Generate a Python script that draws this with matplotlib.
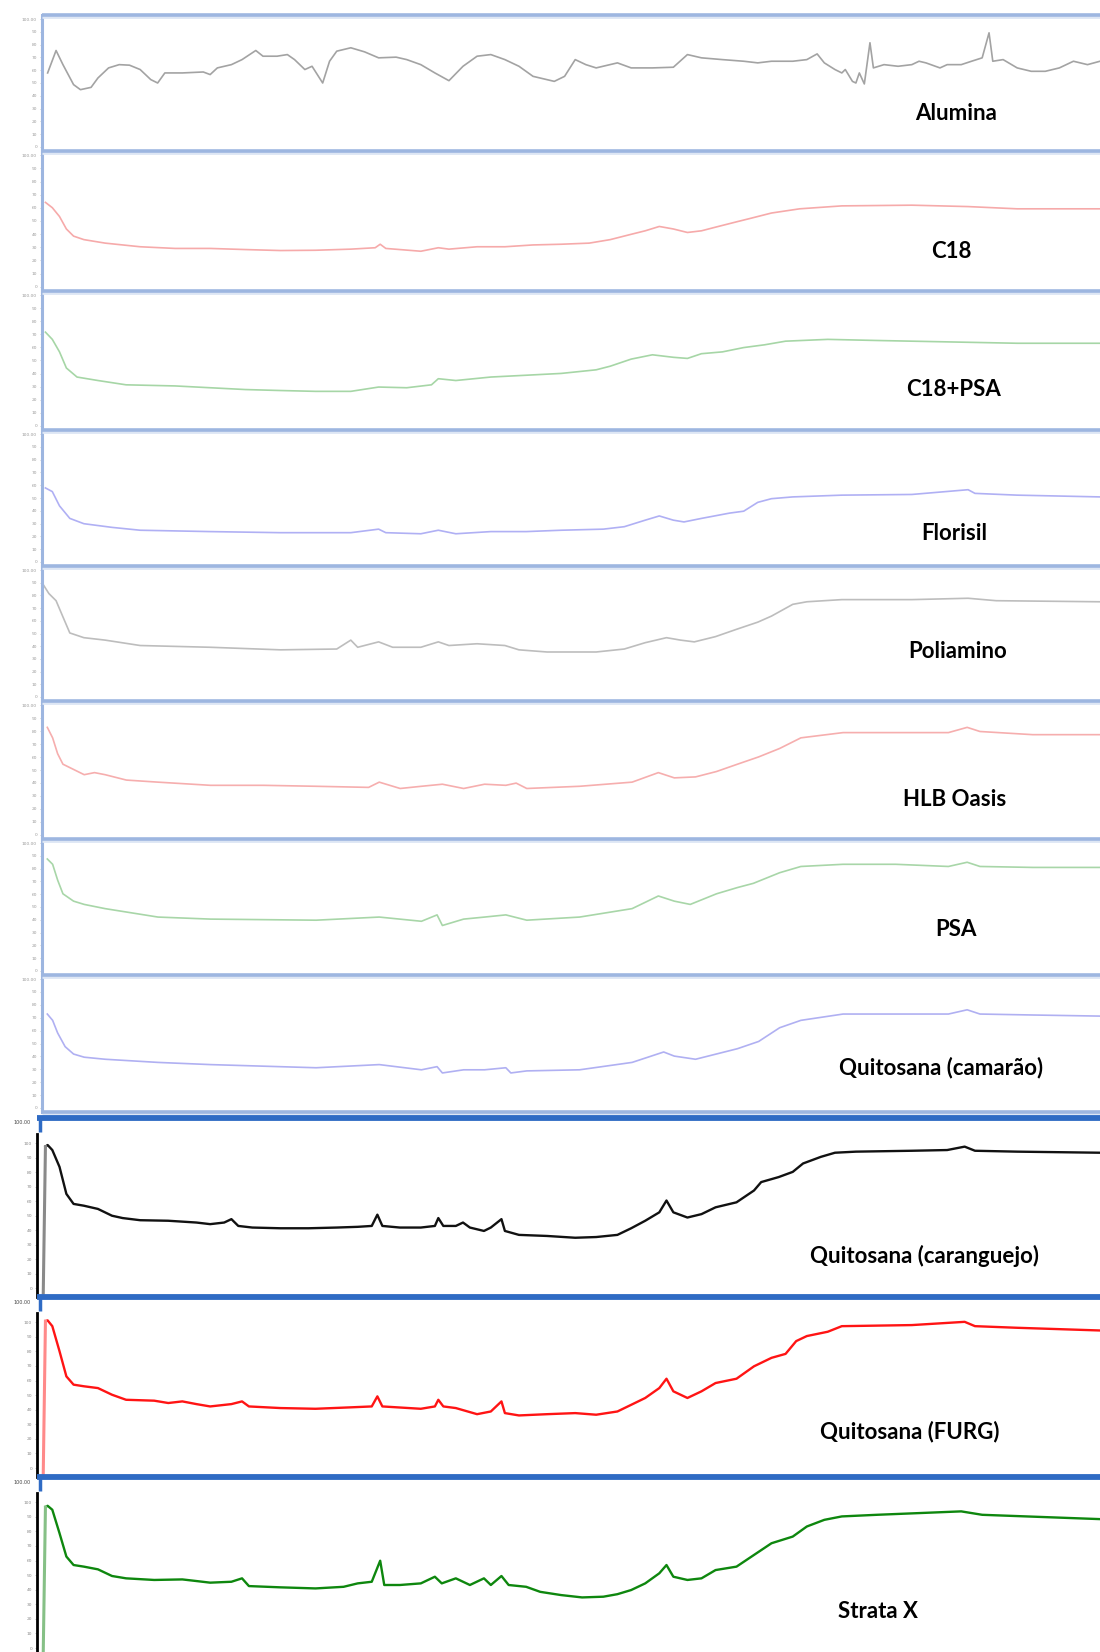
import numpy as np
import matplotlib
matplotlib.use("Agg")
import matplotlib.pyplot as plt
from matplotlib.lines import Line2D

W, H = 1100, 1652

# ---- spectra (wavenumber cm-1, transmittance %) ----
alumina_wn = [3969, 3942, 3920, 3886, 3864, 3830, 3808, 3774, 3740, 3707,
              3673, 3639, 3617, 3594, 3538, 3471, 3449, 3426, 3381, 3347,
              3303, 3280, 3235, 3202, 3179, 3146, 3123, 3089, 3067, 3044,
              2999, 2955, 2910, 2854, 2820, 2775, 2730, 2685, 2640, 2595,
              2551, 2506, 2461, 2416, 2348, 2315, 2281, 2247, 2214, 2146,
              2102, 2034, 1967, 1922, 1877, 1810, 1742, 1697, 1653, 1585,
              1540, 1507, 1484, 1450, 1428, 1417, 1394, 1383, 1372, 1356,
              1338, 1327, 1293, 1248, 1204, 1181, 1159, 1114, 1091, 1046,
              1013, 979, 957, 945, 912, 867, 822, 777, 732, 687, 642, 602]
alumina_t = [57.4, 73.9, 63.5, 48.8, 45.1, 46.8, 53.7, 61.1, 63.5, 63.1,
             59.9, 52.5, 50.0, 57.4, 57.4, 58.1, 56.2, 61.1, 63.5, 67.2,
             73.9, 69.7, 69.7, 70.9, 67.2, 59.9, 62.3, 50.0, 66.0, 73.4,
             75.9, 72.9, 68.5, 69.0, 67.2, 63.5, 57.4, 51.7, 62.3, 69.7,
             70.9, 67.2, 62.3, 54.9, 51.2, 54.9, 67.2, 63.5, 61.1, 64.8,
             61.1, 61.1, 61.6, 70.9, 68.5, 67.2, 66.0, 64.8, 66.0, 66.0,
             67.2, 71.4, 64.8, 59.9, 57.4, 59.9, 51.2, 50.0, 57.4, 49.3,
             79.6, 61.1, 63.5, 62.3, 63.5, 66.0, 64.8, 61.1, 63.5, 63.5,
             66.0, 68.5, 86.9, 66.0, 67.2, 61.1, 58.6, 58.6, 61.1, 66.0, 63.5, 66.0]

c18_wn = [3976, 3954, 3931, 3909, 3886, 3853, 3785, 3673, 3561, 3449, 3336,
          3224, 3112, 2999, 2921, 2905, 2887, 2775, 2719, 2685, 2595, 2506,
          2416, 2326, 2236, 2169, 2102, 2057, 2012, 1967, 1922, 1877, 1832,
          1765, 1720, 1653, 1563, 1428, 1204, 1024, 867, 602]
c18_t = [63.3, 59.5, 53.2, 44.3, 39.2, 36.7, 34.2, 31.6, 30.4, 30.4, 29.6,
         28.9, 29.1, 29.9, 30.9, 33.4, 30.4, 28.4, 30.9, 29.9, 31.6, 31.6,
         32.9, 33.4, 34.2, 36.7, 40.5, 43.0, 46.1, 44.3, 41.8, 43.0, 45.6,
         49.4, 51.9, 55.7, 58.7, 60.8, 61.3, 60.3, 58.7, 58.7]

c18psa_wn = [3976, 3954, 3931, 3909, 3875, 3808, 3718, 3561, 3449, 3336, 3224,
             3112, 2999, 2910, 2820, 2741, 2719, 2663, 2551, 2438, 2326, 2214,
             2169, 2102, 2034, 1967, 1922, 1877, 1810, 1742, 1675, 1608, 1473,
             1316, 1091, 867, 602]
c18psa_t = [70.4, 65.2, 56.2, 44.6, 38.1, 35.6, 32.5, 31.7, 30.4, 29.1, 28.4,
            27.8, 27.8, 30.9, 30.4, 32.5, 36.9, 35.6, 38.1, 39.4, 40.7, 43.3,
            45.9, 51.0, 54.1, 52.3, 51.5, 54.9, 56.2, 59.3, 61.3, 63.9, 65.2,
            64.4, 63.4, 62.4, 62.4]

florisil_wn = [3976, 3954, 3931, 3898, 3853, 3763, 3673, 3449, 3224, 2999, 2910,
               2887, 2775, 2719, 2663, 2551, 2438, 2326, 2191, 2124, 2057, 2012,
               1967, 1933, 1877, 1787, 1742, 1697, 1653, 1585, 1428, 1204, 1024,
               1002, 867, 602]
florisil_t = [57.4, 54.7, 44.2, 35.0, 31.1, 28.4, 26.3, 25.3, 24.5, 24.5, 27.1,
              24.5, 23.7, 26.3, 23.7, 25.3, 25.3, 26.3, 27.1, 28.9, 33.7, 36.8,
              33.7, 32.4, 35.0, 38.9, 40.3, 46.8, 49.5, 50.8, 52.1, 52.6, 56.1,
              53.4, 52.1, 50.8]

poliamino_wn = [3983, 3965, 3942, 3920, 3898, 3853, 3785, 3673, 3449, 3224, 3044,
                2999, 2977, 2910, 2865, 2775, 2719, 2685, 2595, 2506, 2461, 2371,
                2214, 2124, 2057, 1989, 1944, 1900, 1832, 1765, 1697, 1653, 1585,
                1540, 1428, 1204, 1024, 934, 602]
poliamino_t = [86.2, 79.6, 74.3, 62.3, 50.4, 46.9, 45.1, 41.1, 39.8, 37.9, 38.5,
               45.1, 39.8, 43.8, 39.8, 39.8, 43.8, 41.1, 42.4, 41.1, 37.9, 36.3,
               36.3, 38.5, 43.2, 46.9, 45.1, 43.8, 47.7, 53.1, 58.4, 62.9, 71.6,
               73.5, 75.1, 75.1, 76.1, 74.3, 73.5]

hlb_wn = [3970, 3953, 3937, 3920, 3886, 3852, 3819, 3785, 3717, 3616, 3448,
          3279, 3110, 2942, 2908, 2841, 2773, 2706, 2638, 2571, 2503, 2470,
          2436, 2267, 2099, 2015, 1964, 1896, 1829, 1762, 1694, 1627, 1559,
          1424, 1256, 1087, 1027, 986, 817, 602]
hlb_t = [80.9, 73.3, 61.8, 54.2, 50.4, 46.6, 48.1, 46.6, 42.7, 41.2, 38.9,
         38.9, 38.2, 37.4, 41.2, 36.6, 38.2, 39.7, 36.6, 39.7, 38.9, 40.5,
         36.6, 38.2, 41.2, 48.1, 44.3, 45.0, 48.9, 54.2, 59.5, 65.6, 73.3,
         77.1, 77.1, 77.1, 80.9, 77.9, 75.6, 75.6]

psa_wn = [3970, 3953, 3937, 3920, 3886, 3852, 3785, 3616, 3448, 3110, 2908,
          2773, 2723, 2706, 2638, 2571, 2503, 2436, 2267, 2099, 2015, 1964,
          1913, 1829, 1762, 1711, 1627, 1559, 1424, 1256, 1087, 1027, 986, 817, 602]
psa_t = [85.3, 81.4, 69.8, 59.7, 54.3, 51.9, 48.8, 42.6, 41.1, 40.3, 42.6,
         39.5, 44.2, 36.4, 41.1, 42.6, 44.2, 40.3, 42.6, 48.8, 58.1, 54.3,
         51.9, 59.7, 64.3, 67.4, 75.2, 79.8, 81.4, 81.4, 79.8, 82.9, 79.8, 79.1, 79.1]

camarao_wn = [3970, 3953, 3937, 3913, 3886, 3852, 3785, 3616, 3448, 3110, 2908,
              2773, 2723, 2706, 2638, 2571, 2503, 2487, 2436, 2267, 2099, 1998,
              1964, 1896, 1762, 1694, 1627, 1559, 1424, 1256, 1087, 1027, 986, 817, 602]
camarao_t = [71.5, 66.9, 57.7, 47.7, 42.3, 40.0, 38.5, 36.2, 34.6, 32.3, 34.6,
             30.8, 33.1, 28.5, 30.8, 30.8, 32.3, 28.5, 30.0, 30.8, 36.2, 43.8,
             40.8, 38.5, 46.2, 51.5, 61.5, 66.9, 71.5, 71.5, 71.5, 74.6, 71.5, 70.8, 70.0]

caranguejo_wn = [3983, 3976, 3969, 3954, 3931, 3909, 3886, 3853, 3808, 3763, 3729,
                 3673, 3583, 3493, 3449, 3404, 3381, 3359, 3314, 3224, 3134, 3044,
                 2977, 2932, 2914, 2898, 2842, 2775, 2730, 2719, 2703, 2663, 2640,
                 2618, 2573, 2551, 2517, 2506, 2461, 2371, 2281, 2214, 2146, 2102,
                 2057, 2012, 1989, 1967, 1922, 1877, 1832, 1765, 1709, 1686, 1630,
                 1585, 1552, 1495, 1450, 1383, 1204, 1091, 1035, 1002, 867, 602]
caranguejo_t = [2.1, 84.0, 84.9, 82.1, 72.7, 57.6, 52.0, 51.0, 49.2, 45.4, 44.1,
                42.9, 42.6, 41.6, 40.7, 41.6, 43.5, 39.7, 38.8, 38.4, 38.4, 38.8,
                39.2, 39.7, 46.0, 39.7, 38.8, 38.8, 39.7, 44.1, 39.7, 39.7, 41.6,
                38.8, 36.9, 38.8, 43.5, 36.9, 34.7, 34.1, 33.1, 33.5, 34.7, 38.4,
                42.6, 47.3, 53.9, 47.3, 44.4, 46.3, 50.1, 52.9, 59.5, 64.2, 67.0,
                69.9, 74.6, 78.3, 80.6, 81.2, 81.7, 82.1, 84.0, 81.7, 81.2, 80.6]

furg_wn = [3983, 3976, 3969, 3954, 3931, 3909, 3886, 3853, 3808, 3763, 3718,
           3628, 3583, 3538, 3493, 3449, 3381, 3347, 3325, 3224, 3112, 2999,
           2932, 2914, 2898, 2775, 2730, 2719, 2703, 2663, 2595, 2551, 2517,
           2506, 2461, 2371, 2281, 2214, 2146, 2102, 2057, 2012, 1989, 1967,
           1922, 1877, 1832, 1765, 1709, 1653, 1608, 1574, 1540, 1473, 1428,
           1204, 1035, 1002, 867, 602]
furg_t = [2.0, 86.6, 87.0, 83.8, 69.9, 55.9, 51.3, 50.4, 49.4, 45.7, 42.9,
          42.4, 41.1, 42.0, 40.5, 39.2, 40.5, 42.0, 39.2, 38.3, 37.9, 38.7,
          39.2, 44.8, 39.2, 37.9, 39.2, 42.9, 39.2, 38.3, 34.9, 36.4, 42.0,
          35.5, 34.2, 34.9, 35.5, 34.6, 36.4, 40.1, 43.9, 49.4, 54.6, 47.6,
          43.9, 47.6, 52.2, 54.6, 61.5, 66.2, 68.4, 75.5, 78.3, 80.7, 83.8,
          84.4, 86.2, 83.8, 82.9, 81.4]

strata_wn = [3983, 3976, 3969, 3954, 3931, 3909, 3886, 3853, 3808, 3763, 3718,
             3628, 3538, 3493, 3449, 3381, 3347, 3325, 3224, 3112, 3022, 2977,
             2932, 2905, 2892, 2842, 2775, 2730, 2708, 2663, 2618, 2573, 2551,
             2517, 2494, 2438, 2393, 2326, 2259, 2191, 2146, 2102, 2057, 2012,
             1989, 1967, 1922, 1877, 1832, 1765, 1709, 1653, 1585, 1540, 1484,
             1428, 1316, 1046, 979, 602]
strata_t = [2.8, 83.3, 84.0, 81.8, 68.8, 55.8, 51.1, 50.2, 48.7, 45.0, 43.7,
            42.8, 43.1, 42.2, 41.3, 41.8, 43.7, 39.4, 38.7, 38.1, 39.0, 40.9,
            41.8, 53.5, 40.0, 40.0, 40.9, 44.6, 40.9, 43.7, 40.0, 43.7, 40.0,
            45.0, 40.0, 39.0, 36.2, 34.4, 33.1, 33.5, 34.9, 37.2, 40.9, 46.5,
            51.1, 44.6, 42.8, 43.7, 48.3, 50.2, 56.7, 63.2, 66.9, 72.5, 76.2,
            78.1, 79.0, 80.9, 79.0, 76.6]

upper_names = ["Alumina", "C18", "C18+PSA", "Florisil", "Poliamino",
               "HLB Oasis", "PSA", "Quitosana (camarão)"]
upper_data = [(alumina_wn, alumina_t), (c18_wn, c18_t), (c18psa_wn, c18psa_t),
              (florisil_wn, florisil_t), (poliamino_wn, poliamino_t),
              (hlb_wn, hlb_t), (psa_wn, psa_t), (camarao_wn, camarao_t)]
upper_colors = ["#a3a3a3", "#f6aaaa", "#a6d6a6", "#b0b0f4", "#bdbdbd",
                "#f6aeae", "#a8d6a8", "#b0b0f2"]

lower_names = ["Quitosana (caranguejo)", "Quitosana (FURG)", "Strata X"]
lower_data = [(caranguejo_wn, caranguejo_t), (furg_wn, furg_t), (strata_wn, strata_t)]
lower_colors = ["#111111", "#ff1414", "#0e870e"]
lower_edge = ["#8a8a8a", "#ff8a8a", "#86c086"]

# ---- layout (pixels) ----
upper_seps = [15, 151, 291, 430, 566, 701, 839, 975, 1112]
lower_seps = [1118, 1297, 1477, 1657]
upper_label_xy = [(956, 113), (951, 252), (954, 390), (954, 534),
                  (958, 652), (955, 800), (956, 929), (941, 1068)]
lower_label_xy = [(924, 1256), (910, 1432), (878, 1612)]

LIGHT = "#9db6e0"
DARK = "#2f6bc4"


def px_axes(x0, y0, x1, y1):
    return fig.add_axes([x0 / W, 1 - y1 / H, (x1 - x0) / W, (y1 - y0) / H])


def hline(y, x0, x1, color, lw):
    fig.add_artist(Line2D([x0 / W, x1 / W], [1 - y / H, 1 - y / H],
                          transform=fig.transFigure, color=color, lw=lw,
                          solid_capstyle="butt"))


def vline(x, y0, y1, color, lw):
    fig.add_artist(Line2D([x / W, x / W], [1 - y0 / H, 1 - y1 / H],
                          transform=fig.transFigure, color=color, lw=lw,
                          solid_capstyle="butt"))


fig = plt.figure(figsize=(W / 100, H / 100), dpi=100)
fig.patch.set_facecolor("white")

tick_lbls = ["0", "10", "20", "30", "40", "50", "60", "70", "80", "90", "100.00"]

for i, ((wn, t), col) in enumerate(zip(upper_data, upper_colors)):
    ax = px_axes(42, upper_seps[i], W, upper_seps[i + 1])
    ax.plot(wn, t, color=col, lw=1.2)
    ax.set_xlim(3987, 602)
    ax.set_ylim(0, 100)
    for s in ["top", "right", "bottom"]:
        ax.spines[s].set_visible(False)
    ax.spines["left"].set_color(LIGHT)
    ax.spines["left"].set_linewidth(2.2)
    ax.set_xticks([])
    ax.set_yticks(np.linspace(3, 97, 11))
    ax.set_yticklabels(tick_lbls, fontsize=3.2, color="#9a9a9a")
    ax.tick_params(axis="y", length=1.5, width=0.5, color="#b8b8b8", pad=2)
    ax.patch.set_alpha(0)

for i, ((wn, t), col) in enumerate(zip(lower_data, lower_colors)):
    ax = px_axes(37, lower_seps[i], W, lower_seps[i + 1])
    ax.plot(wn[1:], t[1:], color=col, lw=1.7)
    # steep rise from the baseline at the start of the scan
    ax.plot(wn[:2], t[:2], color=lower_edge[i], lw=2.2)
    ax.set_xlim(4003, 602)
    ax.set_ylim(0, 100)
    for s in ["top", "right", "bottom"]:
        ax.spines[s].set_visible(False)
    ax.spines["left"].set_color("black")
    ax.spines["left"].set_linewidth(2.0)
    ax.spines["left"].set_bounds(0, 91)
    ax.set_xticks([])
    ax.set_yticks(np.linspace(5, 86, 11))
    ax.set_yticklabels(tick_lbls[:-1] + ["100"], fontsize=3.2, color="#8a8a8a")
    ax.tick_params(axis="y", length=1.5, width=0.5, color="#b0b0b0", pad=2)
    ax.patch.set_alpha(0)

# frame lines of the stacked screenshots
for y in upper_seps:
    hline(y + 2, 42, W, "#dde6f4", 2.0)
    hline(y, 42, W, LIGHT, 2.6)
for y in lower_seps[:3]:
    hline(y, 37, W, DARK, 4.2)
    vline(40, y, y + 14, DARK, 2.5)
    fig.text(22 / W, 1 - (y + 5) / H, "100.00", fontsize=3.5, color="#444444",
             ha="center", va="center")

label_font = dict(family=["Lato", "DejaVu Sans"], fontweight="bold", fontsize=16,
                  color="black", ha="center", va="center")
for name, (x, y) in zip(upper_names, upper_label_xy):
    fig.text(x / W, 1 - y / H, name, **label_font)
for name, (x, y) in zip(lower_names, lower_label_xy):
    fig.text(x / W, 1 - y / H, name, **label_font)

fig.savefig("out.png", dpi=100, facecolor="white")
